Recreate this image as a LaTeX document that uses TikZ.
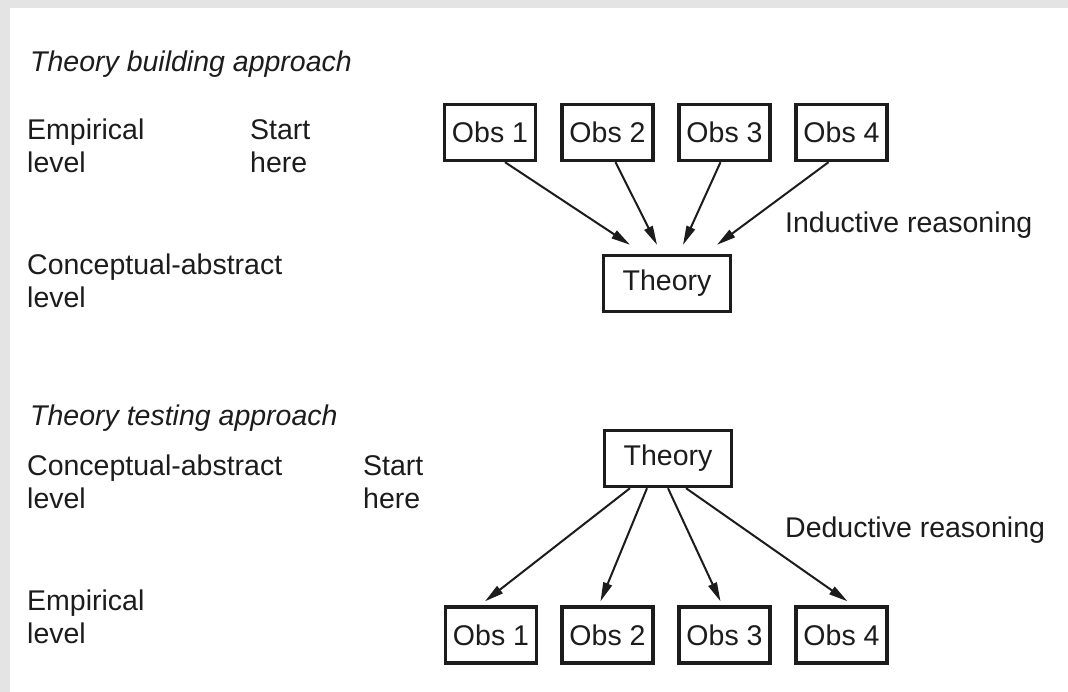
\documentclass[tikz,border=0pt]{standalone}
\usepackage{fontspec}
\setmainfont{Liberation Sans}
\usetikzlibrary{arrows.meta}
\definecolor{ink}{HTML}{1C1C1C}
\definecolor{edgegray}{HTML}{E4E4E4}
\begin{document}
\begin{tikzpicture}[x=1pt,y=-1pt,
  lbl/.style={font=\fontsize{28.5}{33}\selectfont, text=ink, inner sep=0pt, align=left, anchor=base west},
  ttl/.style={lbl, font=\fontsize{28.5}{33}\selectfont\itshape},
  box/.style={draw=ink, line width=3.4pt, fill=white, text=ink,
    font=\fontsize{28.5}{33}\selectfont, minimum height=56pt, inner sep=0pt},
  obs/.style={box, minimum width=91pt},
  thy/.style={box, minimum width=127pt},
  link/.style={draw=ink, line width=2pt, -{Triangle[length=19pt,width=9pt]}}]

% page with a light grey rim along the top and left edges
\useasboundingbox (0,0) rectangle (1068,692);
\fill[edgegray] (0,0) rectangle (1068,692);
\fill[white] (10,8) rectangle (1068,692);

% ---- theory building: observations lead up to a theory ----
% (two-line labels are placed by the baseline of their last line)
\node[ttl] (ttlA) at (30,72) {Theory building approach};
\node[lbl] (empA) at (27,173) {Empirical\\level};
\node[lbl] (startA) at (250,173) {Start\\here};
\node[lbl] (conA) at (27,308) {Conceptual-abstract\\level};
\node[lbl] (indA) at (785,233) {Inductive reasoning};

\node[obs] (a1) at (490,132.5) {Obs 1};
\node[obs] (a2) at (607.5,132.5) {Obs 2};
\node[obs] (a3) at (724.5,132.5) {Obs 3};
\node[obs] (a4) at (841.5,132.5) {Obs 4};
\node[thy] (thA) at (667,283.5) {Theory};

\draw[link] ([xshift=15pt]a1.south) -- ([xshift=-37pt,yshift=9pt]thA.north);
\draw[link] ([xshift=8pt]a2.south) -- ([xshift=-10pt,yshift=9pt]thA.north);
\draw[link] ([xshift=-4pt]a3.south) -- ([xshift=16pt,yshift=9pt]thA.north);
\draw[link] ([xshift=-13pt]a4.south) -- ([xshift=50pt,yshift=9pt]thA.north);

% ---- theory testing: a theory leads down to observations ----
\node[ttl] (ttlB) at (30,425) {Theory testing approach};
\node[lbl] (conB) at (27,508) {Conceptual-abstract\\level};
\node[lbl] (startB) at (363,508) {Start\\here};
\node[lbl] (dedB) at (785,537) {Deductive reasoning};
\node[lbl] (empB) at (27,643) {Empirical\\level};

\node[thy] (thB) at (668,458.5) {Theory};
\node[obs] (b1) at (491,635) {Obs 1};
\node[obs] (b2) at (607.5,635) {Obs 2};
\node[obs] (b3) at (724.5,635) {Obs 3};
\node[obs] (b4) at (841.5,635) {Obs 4};

\draw[link] ([xshift=-38pt]thB.south) -- ([xshift=-6pt,yshift=4pt]b1.north);
\draw[link] ([xshift=-21pt]thB.south) -- ([xshift=-7pt,yshift=4pt]b2.north);
\draw[link] (thB.south) -- ([xshift=-4pt,yshift=4pt]b3.north);
\draw[link] ([xshift=18pt]thB.south) -- ([xshift=6pt,yshift=4pt]b4.north);
\end{tikzpicture}
\end{document}
